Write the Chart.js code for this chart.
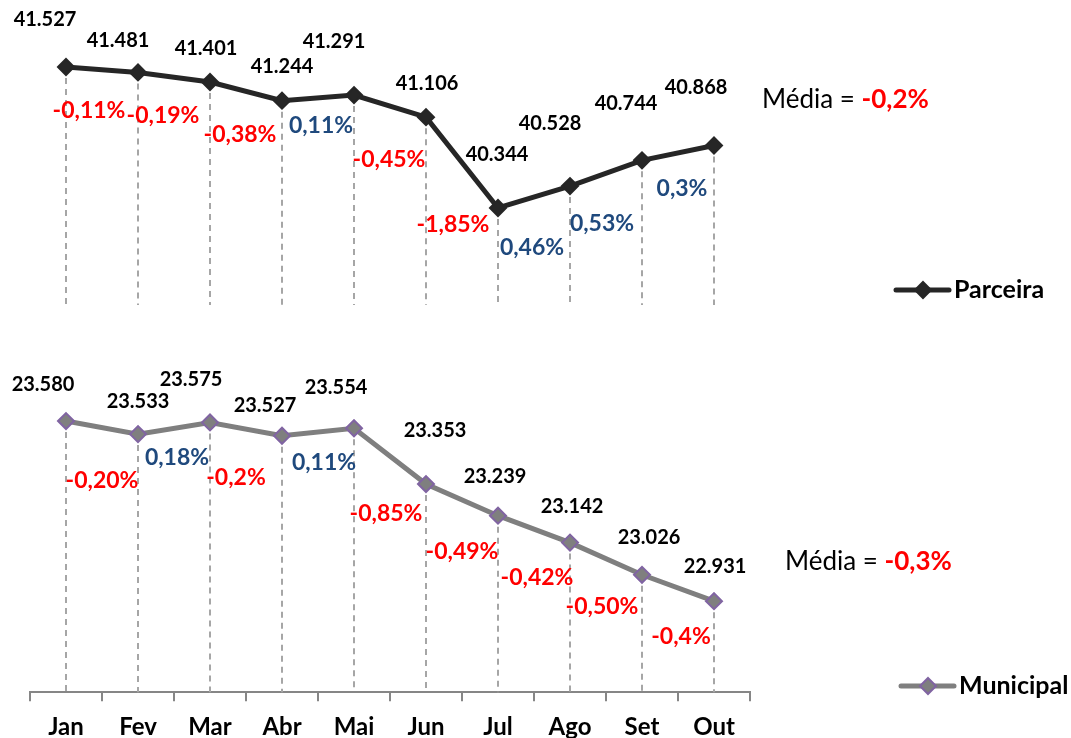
<!DOCTYPE html>
<html>
<head>
<meta charset="utf-8">
<script src="https://cdn.jsdelivr.net/npm/chart.js@4/dist/chart.umd.min.js"></script>
<style>
  html, body { margin: 0; padding: 0; background: #fff; overflow: hidden; width: 1071px; height: 738px; }
  .panel { position: absolute; left: 0; width: 1071px; }
  #top { top: 0; height: 340px; }
  #bottom { top: 340px; height: 420px; }
</style>
</head>
<body>
<div class="panel" id="top"><canvas id="chartTop"></canvas></div>
<div class="panel" id="bottom"><canvas id="chartBottom"></canvas></div>
<script>
const months = ['Jan', 'Fev', 'Mar', 'Abr', 'Mai', 'Jun', 'Jul', 'Ago', 'Set', 'Out'];
const parceira = [41527, 41481, 41401, 41244, 41291, 41106, 40344, 40528, 40744, 40868];
const municipal = [23580, 23533, 23575, 23527, 23554, 23353, 23239, 23142, 23026, 22931];
// month-to-month change, as printed on the chart
const parceiraChange = ['-0,11%', '-0,19%', '-0,38%', '0,11%', '-0,45%', '-1,85%', '0,46%', '0,53%', '0,3%', null];
const municipalChange = ['-0,20%', '0,18%', '-0,2%', '0,11%', '-0,85%', '-0,49%', '-0,42%', '-0,50%', '-0,4%', null];
const parceiraMedia = '-0,2%';
const municipalMedia = '-0,3%';

// label nudges (px from each point), hand placed like the original
const topValueNudge = [[-21,-47],[-20,-32],[-4,-33],[0,-34],[-20,-54],[1,-34],[-1,-53],[-20,-62],[-16,-57],[-18,-58]];
const topChangeNudge = [[23,44],[25,43],[30,53],[39,25],[35,64],[27,107],[34,40],[32,38],[40,28]];
const botValueNudge = [[-23,-37],[0,-33],[-19,-43],[-17,-30],[-18,-41],[9,-54],[-3,-39],[2,-36],[7,-37],[1,-35]];
const botChangeNudge = [[36,60],[39,23],[26,55],[42,27],[32,85],[36,68],[39,62],[32,64],[39,62]];

const FONT = 'Lato, "Open Sans", sans-serif';
const RED = '#FF0000';
const BLUE = '#1F497D';

function fmt(v) {
  return String(v).replace(/\B(?=(\d{3})+(?!\d))/g, '.');
}

function diamond(ctx, x, y, r) {
  ctx.beginPath();
  ctx.moveTo(x, y - r);
  ctx.lineTo(x + r, y);
  ctx.lineTo(x, y + r);
  ctx.lineTo(x - r, y);
  ctx.closePath();
}

const dropLines = {
  id: 'dropLines',
  beforeDatasetsDraw(chart) {
    const ctx = chart.ctx;
    const bottom = chart.chartArea.bottom;
    ctx.save();
    ctx.strokeStyle = '#A6A6A6';
    ctx.lineWidth = 2;
    ctx.setLineDash([6, 5]);
    chart.getDatasetMeta(0).data.forEach(pt => {
      ctx.beginPath();
      ctx.moveTo(pt.x, pt.y);
      ctx.lineTo(pt.x, bottom);
      ctx.stroke();
    });
    ctx.restore();
  }
};

const deco = {
  id: 'deco',
  afterDatasetsDraw(chart, args, o) {
    const ctx = chart.ctx;
    const ds = chart.data.datasets[0];
    const pts = chart.getDatasetMeta(0).data;
    ctx.save();
    ctx.textAlign = 'center';
    ctx.textBaseline = 'middle';

    // values above
    ctx.font = 'bold 20px ' + FONT;
    ctx.fillStyle = '#000';
    pts.forEach((pt, i) => {
      const n = o.valueNudge[i];
      ctx.fillText(fmt(ds.data[i]), pt.x + n[0], pt.y + n[1]);
    });

    // changes below
    ctx.font = 'bold 23px ' + FONT;
    pts.forEach((pt, i) => {
      const txt = o.changes[i];
      if (!txt) return;
      const n = o.changeNudge[i];
      ctx.fillStyle = txt.startsWith('-') ? RED : BLUE;
      ctx.fillText(txt, pt.x + n[0], pt.y + n[1]);
    });

    // Média = x%
    ctx.textAlign = 'left';
    ctx.font = '26px ' + FONT;
    ctx.fillStyle = '#000';
    const lead = 'Média = ';
    ctx.fillText(lead, o.mediaX, o.mediaY);
    const w = ctx.measureText(lead).width;
    ctx.font = 'bold 26px ' + FONT;
    ctx.fillStyle = RED;
    ctx.fillText(o.media, o.mediaX + w, o.mediaY);

    // legend
    const lx = o.legendX, ly = o.legendY;
    ctx.strokeStyle = ds.borderColor;
    ctx.lineWidth = 5;
    ctx.lineCap = 'round';
    ctx.beginPath();
    ctx.moveTo(lx, ly);
    ctx.lineTo(lx + 53, ly);
    ctx.stroke();
    diamond(ctx, lx + 27, ly, 8);
    ctx.fillStyle = ds.pointBackgroundColor;
    ctx.fill();
    ctx.lineWidth = ds.pointBorderWidth;
    ctx.strokeStyle = ds.pointBorderColor;
    ctx.stroke();
    ctx.font = 'bold 25px ' + FONT;
    ctx.fillStyle = '#000';
    ctx.fillText(ds.label, lx + 58, ly);
    ctx.restore();
  }
};

function makePanel(id, cfg) {
  new Chart(document.getElementById(id), {
    type: 'line',
    data: {
      labels: months,
      datasets: [{
        label: cfg.label,
        data: cfg.data,
        borderColor: cfg.line,
        borderWidth: 5,
        tension: 0,
        fill: false,
        pointStyle: 'rectRot',
        pointRadius: 8,
        pointHoverRadius: 8,
        pointBackgroundColor: cfg.marker,
        pointBorderColor: cfg.markerBorder,
        pointBorderWidth: 2
      }]
    },
    options: {
      responsive: true,
      maintainAspectRatio: false,
      animation: false,
      events: [],
      layout: { padding: cfg.padding },
      scales: {
        x: {
          display: cfg.showX,
          offset: true,
          grid: {
            offset: true,
            drawOnChartArea: false,
            drawTicks: true,
            tickLength: 9,
            color: '#868686',
            lineWidth: 2
          },
          border: { display: true, color: '#868686', width: 2 },
          ticks: {
            color: '#000',
            padding: 12,
            font: { family: FONT, weight: 'bold', size: 24 }
          }
        },
        y: { display: false, min: cfg.min, max: cfg.max }
      },
      plugins: {
        legend: { display: false },
        tooltip: { enabled: false },
        deco: cfg.deco
      }
    },
    plugins: [dropLines, deco]
  });
}

makePanel('chartTop', {
  label: 'Parceira',
  data: parceira,
  line: '#262626',
  marker: '#262626',
  markerBorder: '#262626',
  showX: false,
  min: 39530,
  max: 41921,
  padding: { left: 30, right: 321, top: 20, bottom: 35 },
  deco: {
    changes: parceiraChange,
    valueNudge: topValueNudge,
    changeNudge: topChangeNudge,
    media: parceiraMedia,
    mediaX: 762, mediaY: 100,
    legendX: 896, legendY: 290
  }
});

makePanel('chartBottom', {
  label: 'Municipal',
  data: municipal,
  line: '#7F7F7F',
  marker: '#7F7F7F',
  markerBorder: '#8064A2',
  showX: true,
  min: 22603,
  max: 23800,
  padding: { left: 30, right: 321, top: 20, bottom: 6 },
  deco: {
    changes: municipalChange,
    valueNudge: botValueNudge,
    changeNudge: botChangeNudge,
    media: municipalMedia,
    mediaX: 785, mediaY: 222,
    legendX: 901, legendY: 346
  }
});
</script>
</body>
</html>
